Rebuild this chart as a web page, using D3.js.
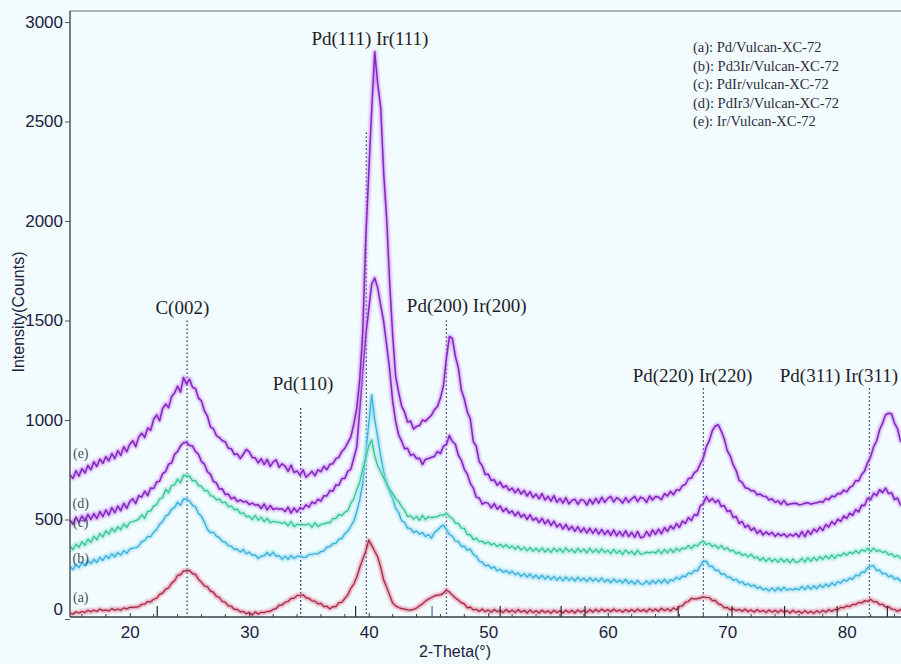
<!DOCTYPE html>
<html>
<head>
<meta charset="utf-8">
<script src="https://cdn.jsdelivr.net/npm/d3@7"></script>
<style>
  html, body { margin: 0; padding: 0; background: #f2fbfd; }
  svg { display: block; }
</style>
</head>
<body>
<svg id="chart" width="901" height="664"></svg>
<script>
// scan starts at 15 deg, step 0.25 deg (4 readings per degree, one row per degree)
const thetaStart = 15;
const thetaStep = 0.25;

const seriesA = [
  30, 24, 36, 30,   38, 32, 44, 36,   45, 38, 50, 42,   45, 40, 52, 44,   50, 44, 56, 50,
  59, 58, 60, 62,   74, 74, 88, 86,   99, 104, 124, 130,   150, 156, 180, 192,   219, 222, 242, 242,
  244, 228, 224, 200,   185, 166, 162, 140,   135, 114, 108, 88,   84, 66, 64, 48,   49, 36, 38, 26,
  34, 20, 36, 24,   34, 32, 38, 38,   49, 52, 70, 70,   84, 88, 104, 104,   119, 118, 122, 106,
  104, 91, 90, 76,   79, 62, 64, 51,   62, 62, 82, 84,   104, 121, 154, 176,   211, 260, 300, 340,
  397, 370, 340, 312,   260, 196, 160, 120,   80, 66, 58, 52,   50, 46, 45, 48,   55, 66, 76, 90,
  100, 108, 116, 120,   121, 130, 146, 135,   120, 105, 95, 82,   76, 56, 60, 46,   49, 38, 50, 36,
  46, 34, 48, 36,   44, 32, 48, 34,   46, 32, 48, 34,   44, 30, 46, 32,   42, 30, 44, 32,
  42, 28, 44, 32,   42, 30, 44, 32,   44, 30, 46, 34,   44, 32, 48, 34,   49, 36, 50, 38,
  48, 36, 50, 38,   46, 34, 48, 36,   48, 36, 50, 38,   48, 36, 52, 40,   50, 38, 54, 42,
  52, 40, 56, 46,   64, 66, 84, 88,   104, 101, 102, 106,   112, 108, 108, 92,   94, 76, 72, 56,
  58, 46, 52, 42,   49, 38, 50, 36,   46, 34, 48, 36,   44, 32, 46, 34,   44, 32, 46, 34,
  42, 30, 44, 32,   40, 28, 42, 30,   39, 28, 42, 32,   44, 34, 48, 38,   49, 46, 59, 56,
  66, 62, 74, 72,   84, 80, 92, 88,   99, 86, 88, 72,   74, 60, 62, 50,   49, 38, 48, 36
];

const seriesB = [
  265, 248, 274, 258,   284, 268, 294, 278,   300, 284, 310, 294,   319, 304, 328, 312,   334, 320, 344, 330,
  351, 356, 358, 366,   389, 394, 414, 414,   436, 450, 476, 490,   517, 526, 552, 560,   587, 571, 604, 602,
  594, 571, 564, 530,   517, 486, 451, 434,   436, 416, 409, 390,   386, 368, 366, 350,   351, 336, 350, 328,
  336, 320, 322, 304,   316, 318, 334, 318,   336, 316, 318, 300,   316, 300, 320, 304,   316, 316, 310, 310,
  324, 324, 328, 328,   339, 342, 362, 364,   379, 380, 401, 404,   429, 441, 466, 491,   540, 600, 680, 834,
  980, 1126, 1000, 915,   820, 740, 683, 640,   606, 557, 536, 494,   486, 456, 456, 434,   442, 426, 434, 414,
  424, 406, 436, 446,   462, 472, 450, 425,   416, 392, 390, 364,   366, 346, 352, 324,   316, 290, 286, 266,
  272, 254, 262, 242,   250, 234, 244, 228,   241, 222, 232, 214,   228, 210, 226, 206,   221, 202, 220, 200,
  216, 198, 214, 194,   211, 192, 212, 194,   209, 190, 210, 192,   206, 188, 208, 190,   204, 188, 206, 186,
  200, 182, 202, 184,   196, 180, 200, 178,   192, 174, 194, 176,   175, 192, 174, 194,   178, 196, 180, 200,
  179, 198, 192, 210,   199, 217, 212, 232,   226, 244, 242, 268,   290, 291, 264, 266,   244, 246, 224, 228,
  209, 211, 194, 200,   182, 188, 170, 178,   164, 171, 154, 162,   146, 154, 140, 156,   140, 158, 142, 160,
  144, 152, 146, 154,   146, 164, 148, 166,   150, 168, 152, 172,   158, 176, 162, 182,   169, 188, 180, 198,
  190, 206, 199, 221,   216, 236, 234, 258,   265, 268, 244, 246,   226, 230, 212, 218,   200, 206, 190, 198
];

const seriesC = [
  366, 348, 376, 360,   389, 370, 402, 384,   416, 398, 430, 412,   444, 426, 456, 438,   464, 448, 478, 460,
  486, 490, 494, 502,   524, 506, 541, 542,   567, 574, 604, 609,   652, 634, 671, 674,   703, 684, 724, 718,
  719, 694, 696, 670,   667, 644, 646, 620,   617, 598, 604, 584,   587, 564, 568, 550,   552, 530, 534, 514,
  517, 500, 521, 496,   512, 489, 506, 484,   491, 488, 486, 480,   486, 468, 490, 464,   476, 474, 474, 472,
  479, 460, 484, 464,   476, 478, 484, 484,   504, 504, 526, 520,   537, 544, 581, 604,   650, 690, 750, 810,
  870, 900, 820, 770,   740, 710, 680, 650,   630, 605, 590, 565,   546, 514, 519, 502,   516, 496, 521, 499,
  514, 509, 512, 514,   524, 520, 533, 514,   506, 482, 481, 456,   456, 424, 424, 399,   406, 388, 392, 378,
  388, 372, 380, 364,   376, 360, 374, 356,   368, 350, 366, 346,   361, 342, 360, 340,   356, 338, 358, 336,
  353, 334, 356, 338,   354, 334, 358, 338,   351, 332, 356, 336,   352, 332, 356, 334,   351, 332, 354, 334,
  346, 328, 350, 330,   344, 324, 348, 328,   341, 322, 346, 326,   328, 336, 332, 338,   330, 348, 328, 350,
  332, 352, 334, 356,   341, 358, 352, 370,   354, 372, 366, 384,   391, 374, 381, 364,   372, 354, 370, 350,
  358, 341, 346, 328,   336, 319, 326, 312,   326, 306, 312, 294,   308, 290, 306, 288,   302, 284, 304, 286,
  301, 282, 302, 284,   288, 306, 286, 308,   290, 310, 294, 314,   299, 318, 302, 322,   304, 324, 316, 332,
  320, 336, 328, 344,   330, 348, 340, 356,   339, 356, 340, 346,   334, 340, 322, 328,   312, 320, 306, 314
];

const seriesD = [
  497, 476, 512, 486,   518, 492, 526, 500,   530, 504, 540, 514,   548, 522, 560, 534,   568, 544, 582, 556,
  590, 604, 580, 620,   612, 642, 620, 658,   656, 688, 692, 730,   740, 778, 784, 828,   841, 870, 886, 888,
  872, 870, 842, 828,   791, 778, 740, 728,   691, 684, 652, 654,   625, 628, 604, 612,   590, 598, 588, 592,
  575, 582, 572, 574,   555, 578, 548, 570,   550, 556, 552, 554,   540, 562, 532, 558,   537, 560, 552, 574,
  562, 588, 580, 602,   592, 620, 618, 646,   642, 674, 672, 706,   706, 743, 752, 808,   866, 1054, 1246, 1424,
  1556, 1684, 1714, 1664,   1576, 1494, 1376, 1254,   1096, 994, 926, 894,   856, 858, 822, 828,   806, 808, 776, 803,
  806, 813, 817, 842,   831, 868, 877, 923,   892, 878, 822, 798,   752, 728, 682, 658,   612, 608, 577, 586,
  581, 558, 580, 552,   568, 540, 556, 532,   543, 518, 538, 512,   526, 500, 524, 496,   508, 484, 506, 478,
  498, 470, 492, 462,   478, 452, 476, 448,   466, 440, 464, 436,   458, 432, 456, 430,   453, 426, 450, 424,
  445, 420, 448, 418,   440, 416, 444, 414,   436, 410, 440, 408,   412, 440, 416, 448,   425, 452, 428, 460,
  440, 468, 452, 480,   460, 492, 480, 510,   495, 525, 520, 570,   580, 615, 590, 606,   585, 598, 565, 570,
  540, 545, 510, 515,   480, 490, 460, 472,   445, 458, 430, 446,   422, 438, 424, 436,   415, 430, 418, 428,
  412, 426, 416, 430,   412, 440, 414, 444,   425, 452, 438, 462,   445, 475, 462, 490,   475, 502, 490, 518,
  505, 532, 520, 550,   538, 572, 570, 608,   600, 632, 620, 650,   635, 658, 630, 635,   600, 608, 573, 585
];

const seriesE = [
  724, 706, 745, 718,   756, 734, 772, 750,   790, 766, 804, 782,   816, 794, 832, 806,   846, 822, 866, 840,
  878, 896, 866, 914,   934, 912, 960, 948,   1004, 1026, 996, 1058,   1080, 1062, 1118, 1136,   1170, 1140, 1214, 1180,
  1206, 1164, 1158, 1110,   1096, 1046, 1020, 966,   956, 922, 912, 896,   890, 858, 856, 826,   830, 806, 828, 852,
  840, 812, 810, 784,   806, 776, 802, 766,   790, 800, 762, 780,   768, 742, 774, 736,   744, 722, 750, 712,
  726, 742, 720, 750,   740, 768, 750, 778,   780, 806, 812, 842,   858, 886, 914, 980,   1060, 1206, 1440, 1910,
  2240, 2560, 2850, 2690,   2570, 2240, 2010, 1690,   1430, 1220, 1140, 1070,   1040, 990, 995, 955,   968, 972, 1000, 994,
  1010, 1024, 1052, 1068,   1110, 1172, 1310, 1420,   1410, 1320, 1262, 1150,   1106, 1040, 1006, 892,   868, 790, 770, 726,
  728, 696, 700, 672,   688, 660, 670, 646,   658, 634, 654, 628,   646, 618, 640, 610,   628, 604, 630, 598,
  616, 592, 620, 586,   606, 582, 610, 578,   596, 602, 576, 600,   596, 572, 602, 578,   606, 582, 612, 586,
  606, 616, 588, 610,   600, 582, 610, 586,   604, 616, 590, 612,   606, 586, 618, 598,   616, 612, 600, 630,
  618, 642, 624, 650,   646, 670, 676, 706,   708, 736, 746, 780,   810, 866, 896, 946,   970, 976, 944, 906,
  846, 820, 774, 746,   696, 686, 660, 656,   644, 644, 624, 628,   617, 616, 598, 604,   586, 594, 577, 596,
  574, 578, 580, 582,   574, 576, 582, 584,   577, 582, 584, 590,   586, 606, 599, 618,   614, 631, 629, 648,
  639, 661, 669, 696,   694, 726, 744, 786,   814, 866, 894, 951,   984, 1026, 1034, 1031,   984, 956, 894, 886
];

const seriesKeys = ["a", "b", "c", "d", "e"];
const seriesNames = [
  "(a): Pd/Vulcan-XC-72",
  "(b): Pd3Ir/Vulcan-XC-72",
  "(c): PdIr/vulcan-XC-72",
  "(d): PdIr3/Vulcan-XC-72",
  "(e): Ir/Vulcan-XC-72"
];
const seriesData = [seriesA, seriesB, seriesC, seriesD, seriesE];

// where the (a)..(e) tags sit, in 2-theta / counts
const curveTagTheta = [15.9, 15.9, 15.9, 15.9, 15.9];
const curveTagCounts = [110, 307, 487, 583, 834];

// reflections: label, line position, top of the dotted line, label anchor
const peakLabels = ["C(002)", "Pd(110)", "Pd(111) Ir(111)", "Pd(200) Ir(200)", "Pd(220) Ir(220)", "Pd(311) Ir(311)"];
const peakTheta = [24.8, 34.3, 39.8, 46.5, 68.0, 81.9];
const peakLineTop = [1500, 1060, 2445, 1500, 1160, 1160];
const peakLabelTheta = [24.4, 34.5, 40.1, 48.2, 67.1, 74.4];
const peakLabelCounts = [1568, 1186, 2920, 1578, 1226, 1226];

// reference pattern sticks on the 2-theta axis
const refSticks = [22.3, 38.9, 45.3, 51.0, 56.1, 58.1, 65.9, 70.4, 74.8, 79.2, 83.4];

const xTicks = [20, 30, 40, 50, 60, 70, 80];
const xMinorTicks = [16, 18, 22, 24, 26, 28, 32, 34, 36, 38, 42, 44, 46, 48, 52, 54, 56, 58, 62, 64, 66, 68, 72, 74, 76, 78, 82, 84];
const yTicks = [0, 500, 1000, 1500, 2000, 2500, 3000];

const colors = {
  a: { core: "#9e2a45", glow: "#e07b98" },
  b: { core: "#3aaed6", glow: "#8fd8f0" },
  c: { core: "#36c09a", glow: "#95e6cf" },
  d: { core: "#8427bf", glow: "#c98bf0" },
  e: { core: "#8427bf", glow: "#c98bf0" }
};

const sansFont = "'Liberation Sans', Arial, sans-serif";
const serifFont = "'Liberation Serif', 'Times New Roman', serif";
const inkColor = "#1c2140";

const svg = d3.select("#chart");
const plotLeft = 70, plotRight = 901, plotTop = 11, plotBottom = 617;

const x = d3.scaleLinear().domain([15, 84.5]).range([70, 900.5]);
const y = d3.scaleLinear().domain([0, 3000]).range([619, 22]);

svg.append("rect").attr("width", 901).attr("height", 664).attr("fill", "#f2fbfd");

const defs = svg.append("defs");
defs.append("clipPath").attr("id", "plotClip")
  .append("rect")
  .attr("x", plotLeft).attr("y", plotTop)
  .attr("width", plotRight - plotLeft).attr("height", plotBottom - plotTop);

const blur = defs.append("filter").attr("id", "soft")
  .attr("x", "-5%").attr("y", "-5%").attr("width", "110%").attr("height", "110%");
blur.append("feGaussianBlur").attr("stdDeviation", 1.1);

// frame
svg.append("line")
  .attr("x1", plotLeft).attr("x2", plotRight).attr("y1", plotTop).attr("y2", plotTop)
  .attr("stroke", "#6b6f78").attr("stroke-width", 1.2);

const plot = svg.append("g").attr("clip-path", "url(#plotClip)");

// dotted reflection markers
plot.append("g").selectAll("line").data(peakTheta).join("line")
  .attr("x1", (d) => x(d)).attr("x2", (d) => x(d))
  .attr("y1", (d, i) => y(peakLineTop[i])).attr("y2", plotBottom)
  .attr("stroke", "#2b3566")
  .attr("stroke-width", 1.3)
  .attr("stroke-dasharray", "1.6,2.4");

const line = d3.line()
  .x((d, i) => x(thetaStart + i * thetaStep))
  .y((d) => y(d));

const curves = plot.append("g").selectAll("g").data(seriesData).join("g");

curves.append("path")
  .attr("d", (d) => line(d))
  .attr("fill", "none")
  .attr("stroke", (d, i) => colors[seriesKeys[i]].glow)
  .attr("stroke-width", 4.2)
  .attr("stroke-opacity", 0.75)
  .attr("stroke-linejoin", "round")
  .attr("filter", "url(#soft)");

curves.append("path")
  .attr("d", (d) => line(d))
  .attr("fill", "none")
  .attr("stroke", (d, i) => colors[seriesKeys[i]].core)
  .attr("stroke-width", (d, i) => i >= 3 ? 1.5 : 1.2)
  .attr("stroke-linejoin", "round");

// reference sticks
plot.append("g").selectAll("line").data(refSticks).join("line")
  .attr("x1", (d) => x(d)).attr("x2", (d) => x(d))
  .attr("y1", plotBottom - 11).attr("y2", plotBottom)
  .attr("stroke", (d) => d === 45.3 ? "#4a63b8" : "#2a2a2a")
  .attr("stroke-width", 1.2);

// y axis
const yAxis = svg.append("g")
  .attr("transform", `translate(${plotLeft},0)`)
  .call(d3.axisLeft(y).tickValues(yTicks).tickFormat(d3.format("d")).tickSize(5).tickPadding(2).tickSizeOuter(0));
yAxis.select(".domain").remove();
yAxis.selectAll(".tick line").attr("stroke", "#555");
yAxis.selectAll(".tick text")
  .attr("font-family", sansFont).attr("font-size", 17)
  .attr("fill", inkColor)
  .attr("dy", (d) => d === 0 ? "-0.25em" : "0.32em");
svg.append("line")
  .attr("x1", plotLeft).attr("x2", plotLeft).attr("y1", plotTop).attr("y2", plotBottom)
  .attr("stroke", "#3a3d48").attr("stroke-width", 1.3);

// x axis
const xAxis = svg.append("g")
  .attr("transform", `translate(0,${plotBottom})`)
  .call(d3.axisBottom(x).tickValues(xTicks).tickSize(-4).tickPadding(9).tickSizeOuter(0));
xAxis.select(".domain").remove();
xAxis.selectAll(".tick line").attr("stroke", "#333");
xAxis.selectAll(".tick text")
  .attr("font-family", sansFont).attr("font-size", 17)
  .attr("fill", inkColor);

svg.append("g").selectAll("line").data(xMinorTicks).join("line")
  .attr("x1", (d) => x(d)).attr("x2", (d) => x(d))
  .attr("y1", plotBottom - 3).attr("y2", plotBottom)
  .attr("stroke", "#444").attr("stroke-width", 1);

svg.append("line")
  .attr("x1", plotLeft).attr("x2", plotRight).attr("y1", plotBottom).attr("y2", plotBottom)
  .attr("stroke", "#3a3d48").attr("stroke-width", 1.3);

// axis titles
svg.append("text")
  .attr("x", 455).attr("y", 657)
  .attr("text-anchor", "middle")
  .attr("font-family", sansFont).attr("font-size", 16)
  .attr("fill", inkColor)
  .text("2-Theta(°)");

svg.append("text")
  .attr("transform", "translate(24,312) rotate(-90)")
  .attr("text-anchor", "middle")
  .attr("font-family", sansFont).attr("font-size", 16)
  .attr("fill", inkColor)
  .text("Intensity(Counts)");

// reflection labels
svg.append("g").selectAll("text").data(peakLabels).join("text")
  .attr("x", (d, i) => x(peakLabelTheta[i]))
  .attr("y", (d, i) => y(peakLabelCounts[i]))
  .attr("dy", "0.35em")
  .attr("text-anchor", (d, i) => i === peakLabels.length - 1 ? "start" : "middle")
  .attr("font-family", serifFont).attr("font-size", 19)
  .attr("fill", "#1e1e2a")
  .text((d) => d);

// (a)..(e) tags
svg.append("g").selectAll("text").data(seriesKeys).join("text")
  .attr("x", (d, i) => x(curveTagTheta[i]))
  .attr("y", (d, i) => y(curveTagCounts[i]))
  .attr("dy", "0.35em")
  .attr("text-anchor", "middle")
  .attr("font-family", serifFont).attr("font-size", 14)
  .attr("fill", "#46505f")
  .text((d) => `(${d})`);

// legend
svg.append("g").selectAll("text").data(seriesNames).join("text")
  .attr("x", 693)
  .attr("y", (d, i) => 47 + i * 18.6)
  .attr("dy", "0.35em")
  .attr("font-family", serifFont).attr("font-size", 14.5)
  .attr("fill", "#2c2c3c")
  .text((d) => d);
</script>
</body>
</html>
